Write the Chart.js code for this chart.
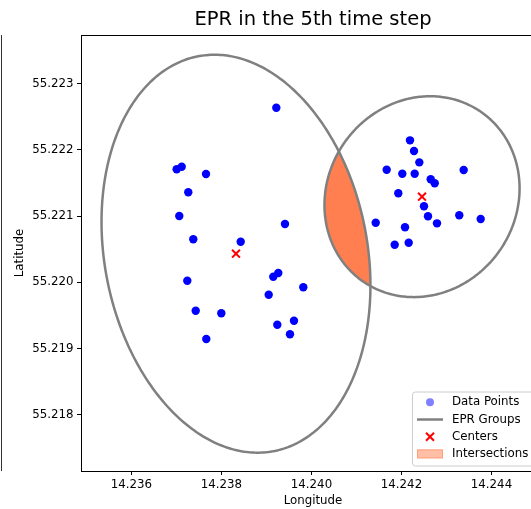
<!DOCTYPE html>
<html lang="en">
<head>
<meta charset="UTF-8">
<title>EPR in the 5th time step</title>
<script src="https://cdn.jsdelivr.net/npm/chart.js"></script>
<style>
  html, body { margin: 0; padding: 0; background: #fff; overflow: hidden; }
  .wrap { width: 560px; height: 509px; }
</style>
</head>
<body>
<div class="wrap"><canvas id="eprChart" width="560" height="509"></canvas></div>
<script>
// positions of the observations, west group
const groupALon = [14.239218, 14.237004, 14.237116, 14.237656, 14.237262, 14.237062, 14.239411,
                   14.237373, 14.238427, 14.237240, 14.239262, 14.239151, 14.239818, 14.239049,
                   14.237427, 14.237996, 14.239611, 14.239240, 14.239522, 14.237662];
const groupALat = [55.222635, 55.221706, 55.221745, 55.221635, 55.221359, 55.221002, 55.220881,
                   55.220650, 55.220614, 55.220026, 55.220142, 55.220086, 55.219926, 55.219814,
                   55.219573, 55.219534, 55.219422, 55.219362, 55.219217, 55.219146];
// east group
const groupBLon = [14.242189, 14.242278, 14.242396, 14.241671, 14.242018, 14.242293, 14.243382,
                   14.242649, 14.242738, 14.241929, 14.242500, 14.242589, 14.243284, 14.243760,
                   14.241427, 14.242789, 14.242078, 14.242160, 14.241849];
const groupBLat = [55.222143, 55.221982, 55.221811, 55.221700, 55.221640, 55.221640, 55.221695,
                   55.221555, 55.221495, 55.221344, 55.221148, 55.220997, 55.221012, 55.220956,
                   55.220900, 55.220891, 55.220831, 55.220599, 55.220569];

// group centers
const centerLon = [14.238322, 14.242456];
const centerLat = [55.220433, 55.221293];

// EPR ellipses: full width / height in degrees, rotation in degrees
const eprWidth = [0.00645, 0.00435];
const eprHeight = [0.00549, 0.00301];
const eprAngle = [-45.8, 6.4];

const lonTicks = [14.236, 14.238, 14.240, 14.242, 14.244];
const latTicks = [55.218, 55.219, 55.220, 55.221, 55.222, 55.223];
const lonRange = [14.234878, 14.245189];
const latRange = [55.217155, 55.223732];

const legendLabels = ['Data Points', 'EPR Groups', 'Centers', 'Intersections'];

const FONT = '"DejaVu Sans", Verdana, sans-serif';
Chart.defaults.font.family = FONT;
Chart.defaults.color = '#000';

function ellipsePath(chart, i) {
  const { x, y } = chart.scales;
  const a = eprWidth[i] / 2, b = eprHeight[i] / 2;
  const th = eprAngle[i] * Math.PI / 180;
  const p = new Path2D();
  const n = 360;
  for (let k = 0; k <= n; k++) {
    const t = k / n * 2 * Math.PI;
    const dx = a * Math.cos(t), dy = b * Math.sin(t);
    const lon = centerLon[i] + dx * Math.cos(th) - dy * Math.sin(th);
    const lat = centerLat[i] + dx * Math.sin(th) + dy * Math.cos(th);
    const px = x.getPixelForValue(lon), py = y.getPixelForValue(lat);
    if (k === 0) p.moveTo(px, py); else p.lineTo(px, py);
  }
  p.closePath();
  return p;
}

// ellipses + their overlap, under the points
const eprPlugin = {
  id: 'eprEllipses',
  beforeDatasetsDraw(chart) {
    const { ctx, chartArea: ca } = chart;
    const paths = centerLon.map((_, i) => ellipsePath(chart, i));
    ctx.save();
    ctx.beginPath();
    ctx.rect(ca.left, ca.top, ca.right - ca.left, ca.bottom - ca.top);
    ctx.clip();
    // overlap of the two groups
    ctx.save();
    ctx.clip(paths[0]);
    ctx.fillStyle = '#ff7f50';
    ctx.fill(paths[1]);
    ctx.restore();
    ctx.strokeStyle = '#808080';
    ctx.lineWidth = 2.5;
    paths.forEach(p => ctx.stroke(p));
    ctx.restore();
  }
};

// axes frame, neighbouring panel edge and legend box
const framePlugin = {
  id: 'frameAndLegend',
  afterDraw(chart) {
    const { ctx, chartArea: ca } = chart;
    ctx.save();
    ctx.strokeStyle = '#000';
    ctx.lineWidth = 1;
    ctx.strokeRect(ca.left + 0.5, ca.top + 0.5, ca.right - ca.left, ca.bottom - ca.top);
    ctx.strokeStyle = '#333';
    ctx.beginPath();
    ctx.moveTo(1.5, ca.top);
    ctx.lineTo(1.5, ca.bottom);
    ctx.stroke();

    // legend
    const lx = 412.5, ly = 392, lh = 74, lw = ca.right - 5 - lx;
    ctx.fillStyle = 'rgba(255,255,255,0.8)';
    ctx.strokeStyle = '#cccccc';
    ctx.beginPath();
    ctx.roundRect(lx, ly, lw, lh, 3);
    ctx.fill();
    ctx.stroke();

    const hx0 = 417, hx1 = 443, hc = 430, tx = 452;
    const rows = [402.3, 419.5, 436.7, 453.9];
    // Data Points
    ctx.fillStyle = 'rgba(0,0,255,0.5)';
    ctx.beginPath();
    ctx.arc(hc, rows[0], 4, 0, 2 * Math.PI);
    ctx.fill();
    // EPR Groups
    ctx.strokeStyle = '#808080';
    ctx.lineWidth = 2.5;
    ctx.beginPath();
    ctx.moveTo(hx0, rows[1]);
    ctx.lineTo(hx1, rows[1]);
    ctx.stroke();
    // Centers
    ctx.strokeStyle = '#ff0000';
    ctx.lineWidth = 2;
    ctx.beginPath();
    ctx.moveTo(hc - 4, rows[2] - 4); ctx.lineTo(hc + 4, rows[2] + 4);
    ctx.moveTo(hc - 4, rows[2] + 4); ctx.lineTo(hc + 4, rows[2] - 4);
    ctx.stroke();
    // Intersections
    ctx.fillStyle = 'rgba(255,127,80,0.5)';
    ctx.strokeStyle = 'rgba(255,127,80,0.5)';
    ctx.lineWidth = 1;
    ctx.fillRect(hx0, rows[3] - 4.5, hx1 - hx0, 9);
    ctx.strokeRect(hx0 + 0.5, rows[3] - 4, hx1 - hx0 - 1, 8);

    ctx.fillStyle = '#000';
    ctx.font = '11.8px ' + FONT;
    ctx.textAlign = 'left';
    ctx.textBaseline = 'middle';
    legendLabels.forEach((t, i) => ctx.fillText(t, tx, rows[i]));
    ctx.restore();
  }
};

const pointsA = groupALon.map((v, i) => ({ x: v, y: groupALat[i] }));
const pointsB = groupBLon.map((v, i) => ({ x: v, y: groupBLat[i] }));
const centers = centerLon.map((v, i) => ({ x: v, y: centerLat[i] }));

new Chart(document.getElementById('eprChart'), {
  type: 'scatter',
  data: {
    datasets: [
      {
        label: legendLabels[0],
        data: pointsA.concat(pointsB),
        backgroundColor: '#0000ff',
        borderWidth: 0,
        pointRadius: 4.2
      },
      {
        label: legendLabels[2],
        data: centers,
        pointStyle: 'crossRot',
        borderColor: '#ff0000',
        backgroundColor: '#ff0000',
        borderWidth: 2,
        pointRadius: 5.6
      }
    ]
  },
  options: {
    responsive: false,
    animation: false,
    events: [],
    layout: { padding: { left: 0, right: 15, top: 0, bottom: 0 } },
    plugins: {
      legend: { display: false },
      tooltip: { enabled: false },
      title: {
        display: true,
        text: 'EPR in the 5th time step',
        fullSize: false,
        color: '#000',
        font: { size: 19.5, weight: 'normal' },
        padding: { top: 8.5, bottom: 3.1 }
      }
    },
    scales: {
      x: {
        type: 'linear',
        min: lonRange[0],
        max: lonRange[1],
        afterBuildTicks: s => { s.ticks = lonTicks.map(v => ({ value: v })); },
        afterFit: s => { s.height = 38; },
        grid: { drawOnChartArea: false, drawTicks: true, tickLength: 4, color: '#000' },
        border: { display: true, color: '#000', width: 1 },
        ticks: {
          color: '#000', padding: 3, font: { size: 11.8 },
          maxRotation: 0, autoSkip: false,
          callback: v => Number(v).toFixed(3)
        },
        title: {
          display: true, text: 'Longitude', color: '#000',
          font: { size: 11.8 }, padding: { top: 0, bottom: 1 }
        }
      },
      y: {
        type: 'linear',
        min: latRange[0],
        max: latRange[1],
        afterBuildTicks: s => { s.ticks = latTicks.map(v => ({ value: v })); },
        afterFit: s => { s.width = 81; },
        grid: { drawOnChartArea: false, drawTicks: true, tickLength: 4, color: '#000' },
        border: { display: true, color: '#000', width: 1 },
        ticks: {
          color: '#000', padding: 3.5, font: { size: 11.8 },
          autoSkip: false,
          callback: v => Number(v).toFixed(3)
        },
        title: {
          display: true, text: 'Latitude', color: '#000',
          font: { size: 11.8 }, padding: { top: 13, bottom: 0 }
        }
      }
    }
  },
  plugins: [eprPlugin, framePlugin]
});
</script>
</body>
</html>
